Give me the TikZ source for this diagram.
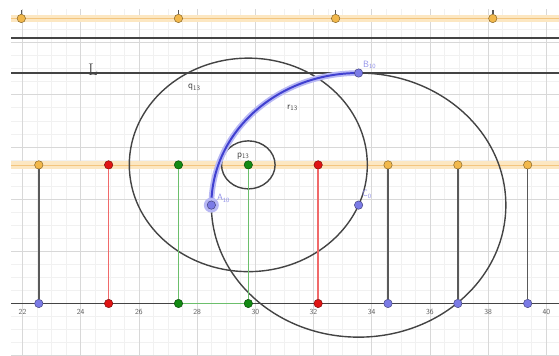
\documentclass[tikz,border=0pt]{standalone}
\usepackage{tikz}
\usetikzlibrary{positioning}
\definecolor{rejillaf}{HTML}{F1F1F1}
\definecolor{rejillag}{HTML}{D8D8D8}
\definecolor{oscuro}{HTML}{444444}
\definecolor{bandaclara}{HTML}{FCE7C2}
\definecolor{bandamedia}{HTML}{F3C57E}
\definecolor{naranja}{HTML}{F2B84B}
\definecolor{rojo}{HTML}{E01414}
\definecolor{verde}{HTML}{138A13}
\definecolor{azul}{HTML}{7B7BE6}
\definecolor{grisl}{HTML}{5A5A5A}
\definecolor{rojol}{HTML}{F06A6A}
\definecolor{verdel}{HTML}{6CBF6C}
\definecolor{arco}{HTML}{4040D0}
\definecolor{halo}{HTML}{B8B8F4}
\definecolor{etiqazul}{HTML}{8E8EE8}
\definecolor{numeros}{HTML}{555555}
\tikzset{
  punto/.style={circle, inner sep=0pt, minimum size=0.42cm, fill=#1, draw=#1!55!black, line width=0.7pt},
  segmento/.style={line width=2.3pt},
  recta/.style={draw=oscuro, line width=2.4pt},
  banda/.style={draw=bandaclara, line width=11pt},
  circulo/.style={draw=oscuro, line width=2pt}
}

\begin{document}
\begin{tikzpicture}[x=1.455cm, y=1.305cm,
        etiqueta/.style={font=\fontsize{14}{16}\selectfont\sffamily, text=oscuro, inner sep=0pt},
        etiquetaazul/.style={font=\fontsize{13}{15}\selectfont\sffamily, text=etiqazul, inner sep=0pt},
        numero/.style={font=\fontsize{11}{13}\selectfont\sffamily, text=numeros}
    ]
        % --- Marco y rejilla ---
        \useasboundingbox (21.227,-2.011) rectangle (40.437,11.628);
        \begin{scope}
            \clip (21.605,-2.011) rectangle (40.437,11.245);
            \draw[rejillaf, line width=0.8pt] (21,-3) grid[step=0.5] (41,12);
            \draw[rejillag, line width=0.9pt] (20,-4) grid[step=2] (42,12);
        \end{scope}

        % --- Rectas resaltadas (naranja) ---
        \draw[banda] (21.605,10.92) -- (40.437,10.92);
        \draw[bandamedia, line width=1pt] (21.605,10.92) -- (40.437,10.92);
        \draw[banda] (21.605,5.31) -- (40.437,5.31);
        \draw[bandamedia, line width=1pt] (21.605,5.31) -- (40.437,5.31);

        % --- Rectas y eje ---
        \draw[recta] (21.605,10.16) -- (40.437,10.16);
        \draw[recta] (21.605,8.83) -- (40.437,8.83);
        \draw[recta] (21.605,0) -- (40.437,0);
        \node[font=\fontsize{24}{26}\selectfont, text=oscuro, inner sep=0pt, anchor=base west] (nomL) at (24.25,8.75) {L};

        % --- Circunferencias ---
        \draw[circulo] (29.76,5.31) circle[radius=0.92];
        \draw[circulo] (29.76,5.31) circle[radius=4.09];
        \draw[circulo] (33.55,3.77) circle[radius=5.06];

        % --- Arco resaltado ---
        \draw[halo, line width=8pt, line cap=round] (28.49,3.77) arc[start angle=180, end angle=90, radius=5.06];
        \node[etiquetaazul, anchor=base west] (nomA) at (28.68,3.93) {A\textsubscript{10}};
        \draw[arco, line width=2.8pt] (28.49,3.77) arc[start angle=180, end angle=90, radius=5.06];

        % --- Puntos del arco ---
        \node[circle, fill=halo, inner sep=0pt, minimum size=0.75cm] (haloA) at (28.49,3.77) {};
        \node[punto=azul] (A10) at (28.49,3.77) {};
        \node[punto=azul] (B10) at (33.55,8.83) {};
        \node[punto=azul] (C0) at (33.55,3.77) {};

        % --- Puntos superiores ---
        \foreach \xx [count=\i] in {21.96,27.36,32.76,38.16} {
            \coordinate (c\i) at (\xx,11.245);
            \node[punto=naranja] (t\i) at (\xx,10.92) {};
            \draw[segmento, grisl] (c\i) -- (t\i);
        }

        % --- Puntos medios y del eje ---
        \foreach \k/\cm/\cb/\cs [count=\i] in {-3/naranja/azul/grisl, -2/rojo/rojo/rojol, -1/verde/verde/verdel, 0/verde/verde/verdel, 1/rojo/rojo/rojol, 2/naranja/azul/grisl, 3/naranja/azul/grisl, 4/naranja/azul/grisl} {
            \node[punto=\cm] (m\i) at ({29.76+2.4*\k},5.31) {};
            \node[punto=\cb] (b\i) at ({29.76+2.4*\k},0) {};
            \draw[segmento, \cs] (m\i) -- (b\i);
        }
        \draw[segmento, verdel] (b3) -- (b4);

        % --- Etiquetas ---
        \node[etiqueta, anchor=base west] (nomq) at (27.69,8.22) {q\textsubscript{13}};
        \node[etiqueta, anchor=base west] (nomr) at (31.09,7.45) {r\textsubscript{13}};
        \node[etiqueta, anchor=base west] (nomp) at (29.37,5.61) {p\textsubscript{13}};
        \node[etiquetaazul, anchor=base west] (nomB) at (33.70,9.06) {B\textsubscript{10}};
        \node[etiquetaazul, anchor=base west] (nomC) at (33.67,4.08) {C\textsubscript{0}};

        % --- Numeros del eje ---
        \foreach \n in {22,24,...,40} {
            \node[numero] (n\n) at (\n,-0.33) {\n};
        }
    \end{tikzpicture}
\end{document}
